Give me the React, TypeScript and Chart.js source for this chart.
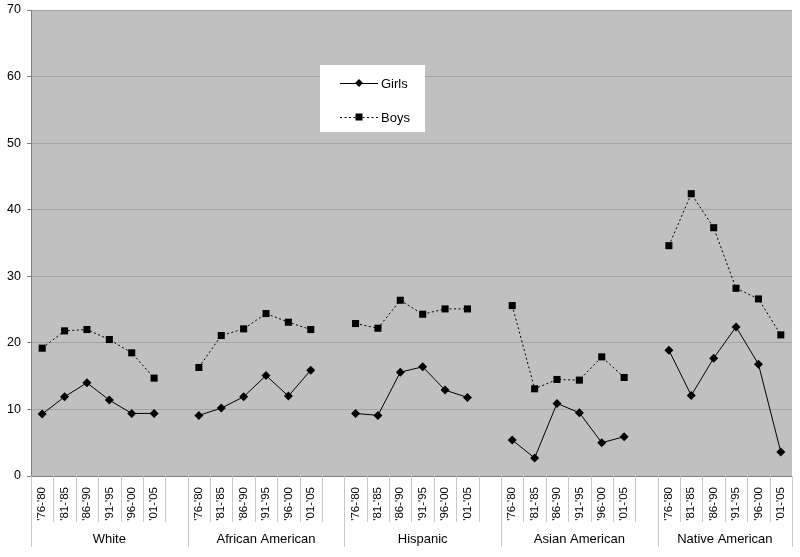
import React, { useEffect, useRef } from "react";
import { Chart, registerables } from "chart.js";

Chart.register(...registerables);

const periods = ["'76-'80", "'81-'85", "'86-'90", "'91-'95", "'96-'00", "'01-'05"];
const groups = ["White", "African American", "Hispanic", "Asian American", "Native American"];

const girlsWhite = [9.3, 11.9, 14.0, 11.4, 9.4, 9.4];
const girlsAfrican = [9.1, 10.2, 11.9, 15.1, 12.0, 15.9];
const girlsHispanic = [9.4, 9.1, 15.6, 16.4, 12.9, 11.8];
const girlsAsian = [5.4, 2.7, 10.9, 9.5, 5.0, 5.9];
const girlsNative = [18.9, 12.1, 17.7, 22.4, 16.8, 3.6];

const boysWhite = [19.2, 21.8, 22.0, 20.5, 18.5, 14.7];
const boysAfrican = [16.3, 21.1, 22.1, 24.4, 23.1, 22.0];
const boysHispanic = [22.9, 22.2, 26.4, 24.3, 25.1, 25.1];
const boysAsian = [25.6, 13.1, 14.5, 14.4, 17.9, 14.8];
const boysNative = [34.6, 42.4, 37.3, 28.2, 26.6, 21.2];

const yTicks = [0, 10, 20, 30, 40, 50, 60, 70];

function buildSeries(parts: number[][]): (number | null)[] {
  const out: (number | null)[] = [];
  parts.forEach((p, i) => {
    out.push(...p);
    if (i < parts.length - 1) out.push(null);
  });
  return out;
}

const labels: string[] = [];
groups.forEach((_, i) => {
  labels.push(...periods);
  if (i < groups.length - 1) labels.push("");
});

const girls = buildSeries([girlsWhite, girlsAfrican, girlsHispanic, girlsAsian, girlsNative]);
const boys = buildSeries([boysWhite, boysAfrican, boysHispanic, boysAsian, boysNative]);

const FONT = "'Liberation Sans', Arial, sans-serif";

const decor = {
  id: "decor",
  beforeDraw(chart: any) {
    const { ctx, chartArea } = chart;
    ctx.save();
    ctx.fillStyle = "#c0c0c0";
    ctx.fillRect(chartArea.left, chartArea.top, chartArea.right - chartArea.left, chartArea.bottom - chartArea.top);
    ctx.restore();
  },
  afterDraw(chart: any) {
    const { ctx, chartArea } = chart;
    const xs = chart.scales.x;
    const hw = (xs.getPixelForValue(1) - xs.getPixelForValue(0)) / 2;
    const n = labels.length;
    const groupStarts: number[] = [];
    let idx = 0;
    groups.forEach((_, g) => {
      groupStarts.push(idx);
      idx += periods.length + (g < groups.length - 1 ? 1 : 0);
    });
    groupStarts.push(n);
    ctx.save();
    ctx.strokeStyle = "#c8c8c8";
    ctx.lineWidth = 1;
    for (let i = 0; i <= n; i++) {
      const x = Math.round(xs.getPixelForValue(Math.min(i, n - 1)) + (i === n ? hw : -hw)) + 0.5;
      const long = groupStarts.includes(i);
      ctx.beginPath();
      ctx.moveTo(x, chartArea.bottom);
      ctx.lineTo(x, long ? chartArea.bottom + 71 : chartArea.bottom + 46);
      ctx.stroke();
    }
    ctx.fillStyle = "#000";
    ctx.font = `13px ${FONT}`;
    ctx.textAlign = "center";
    ctx.textBaseline = "middle";
    groups.forEach((g, gi) => {
      const a = xs.getPixelForValue(groupStarts[gi]) - hw;
      const b = xs.getPixelForValue(groupStarts[gi + 1] - 1) + hw;
      ctx.fillText(g, (a + b) / 2, chartArea.bottom + 63);
    });

    // legend
    const lx = 320, ly = 65, lw = 105, lh = 67;
    ctx.fillStyle = "#ffffff";
    ctx.fillRect(lx, ly, lw, lh);
    const items = chart.data.datasets;
    const rows = [83, 117];
    items.forEach((ds: any, k: number) => {
      const y = rows[k];
      ctx.save();
      ctx.strokeStyle = ds.borderColor;
      ctx.lineWidth = 1;
      ctx.setLineDash(ds.borderDash || []);
      ctx.beginPath();
      ctx.moveTo(340, y + 0.5);
      ctx.lineTo(378, y + 0.5);
      ctx.stroke();
      ctx.restore();
      ctx.fillStyle = "#000";
      ctx.beginPath();
      if (ds.pointStyle === "rectRot") {
        const r = 4;
        ctx.moveTo(359, y - r);
        ctx.lineTo(359 + r, y);
        ctx.lineTo(359, y + r);
        ctx.lineTo(359 - r, y);
        ctx.closePath();
      } else {
        ctx.rect(355.5, y - 3.5, 7, 7);
      }
      ctx.fill();
      ctx.font = `13px ${FONT}`;
      ctx.textAlign = "left";
      ctx.textBaseline = "middle";
      ctx.fillText(ds.label, 381, y + 1);
    });
    ctx.restore();
  },
};

export default function App() {
  const ref = useRef<HTMLCanvasElement | null>(null);
  useEffect(() => {
    document.body.style.margin = "0";
    if (!ref.current) return;
    const chart = new Chart(ref.current, {
      type: "line",
      data: {
        labels,
        datasets: [
          {
            label: "Girls",
            data: girls,
            borderColor: "#000000",
            backgroundColor: "#000000",
            borderWidth: 1,
            pointStyle: "rectRot",
            pointRadius: 4.5,
            pointBorderWidth: 0,
            spanGaps: false,
            tension: 0,
          },
          {
            label: "Boys",
            data: boys,
            borderColor: "#000000",
            backgroundColor: "#000000",
            borderWidth: 1,
            borderDash: [2, 2.5],
            pointStyle: "rect",
            pointRadius: 5,
            pointBorderWidth: 0,
            spanGaps: false,
            tension: 0,
          },
        ],
      },
      options: {
        animation: false,
        responsive: false,
        maintainAspectRatio: false,
        layout: { padding: { top: 10, right: 8, left: 0, bottom: 0 } },
        plugins: { legend: { display: false }, tooltip: { enabled: false } },
        scales: {
          x: {
            type: "category",
            offset: true,
            grid: { display: false, drawTicks: false },
            border: { display: true, color: "#808080" },
            ticks: {
              autoSkip: false,
              minRotation: 90,
              maxRotation: 90,
              padding: 11,
              color: "#000",
              font: { family: FONT, size: 11.5 },
            },
            afterFit: (s: any) => {
              s.height = 81;
              s.paddingLeft = 0;
              s.paddingRight = 0;
            },
          },
          y: {
            min: 0,
            max: 70,
            afterBuildTicks: (s: any) => {
              s.ticks = yTicks.map((v) => ({ value: v }));
            },
            grid: {
              color: "#a4a4a4",
              tickColor: "#808080",
              tickLength: 4,
              drawTicks: true,
            },
            border: { display: true, color: "#808080" },
            ticks: {
              padding: 6,
              color: "#000",
              font: { family: FONT, size: 12.5 },
            },
            afterFit: (s: any) => {
              s.width = 31;
              s.paddingTop = 0;
              s.paddingBottom = 0;
            },
          },
        },
      },
      plugins: [decor],
    });
    return () => chart.destroy();
  }, []);
  return (
    <div style={{ width: 800, height: 557 }}>
      <canvas ref={ref} width={800} height={557} style={{ display: "block" }} />
    </div>
  );
}
